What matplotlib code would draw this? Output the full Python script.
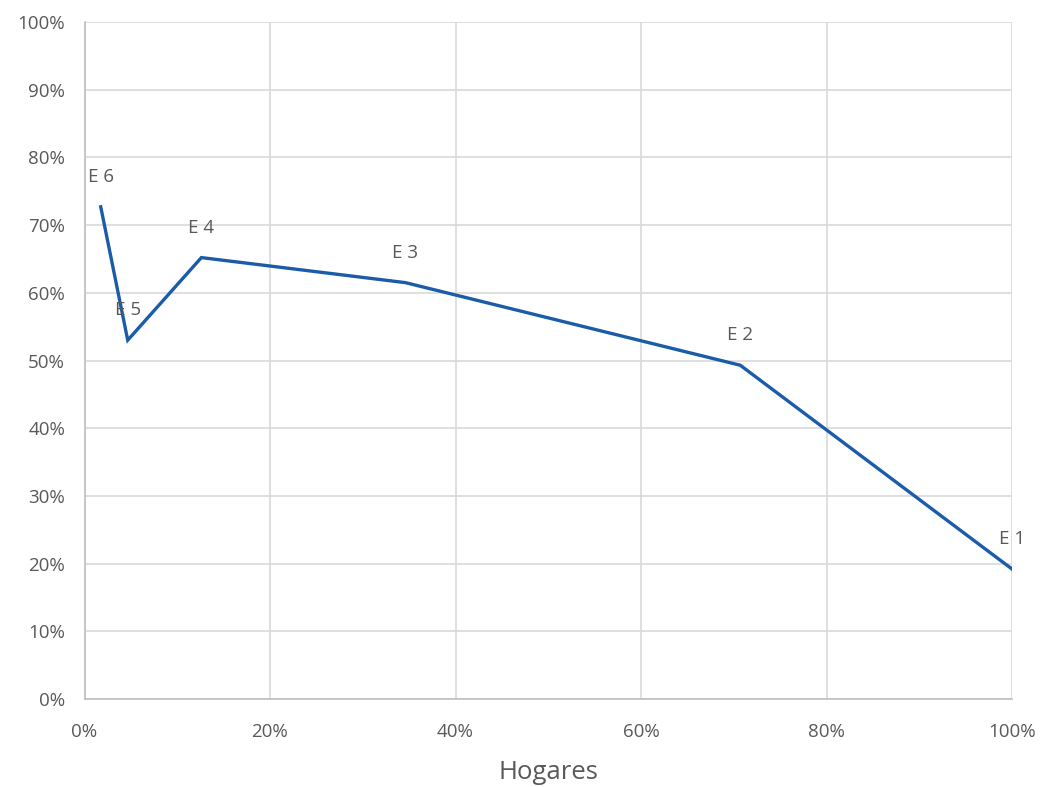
import matplotlib
matplotlib.use("Agg")
import matplotlib.pyplot as plt
from matplotlib.ticker import PercentFormatter, MultipleLocator

plt.rcParams['font.family'] = ['Open Sans', 'DejaVu Sans']

# Share of households (cumulative) and corresponding rate per socioeconomic stratum
labels = ["E 6", "E 5", "E 4", "E 3", "E 2", "E 1"]
hogares = [1.75, 4.66, 12.6, 34.6, 70.7, 100.0]
valores = [72.7, 53.0, 65.2, 61.5, 49.3, 19.2]

fig = plt.figure(figsize=(10.43, 7.87), dpi=100)
ax = fig.add_axes([84.5 / 1043, 88 / 787, 927.5 / 1043, 677 / 787])

ax.plot(hogares, valores, color="#1A5CA8", linewidth=2.4, solid_joinstyle="miter", zorder=3)
for lab, x, y in zip(labels, hogares, valores):
    ax.annotate(lab, (x, y), xytext=(0, 15), textcoords="offset points",
                ha="center", va="bottom", fontsize=13.5, color="#595959")

ax.set_xlim(0, 100)
ax.set_ylim(0, 100)
ax.xaxis.set_major_locator(MultipleLocator(20))
ax.yaxis.set_major_locator(MultipleLocator(10))
ax.xaxis.set_major_formatter(PercentFormatter(decimals=0))
ax.yaxis.set_major_formatter(PercentFormatter(decimals=0))
ax.grid(True, color="#D9D9D9", linewidth=1.2, zorder=0)
ax.set_axisbelow(True)
for side in ("top", "right"):
    ax.spines[side].set_visible(False)
for side in ("left", "bottom"):
    ax.spines[side].set_color("#BFBFBF")
    ax.spines[side].set_linewidth(1.2)
ax.tick_params(length=0, labelsize=13.5, labelcolor="#595959")
ax.tick_params(axis="y", pad=14)
ax.tick_params(axis="x", pad=17)
ax.set_xlabel("Hogares", fontsize=18.5, color="#595959", labelpad=14)

fig.savefig("out.png", dpi=100)
